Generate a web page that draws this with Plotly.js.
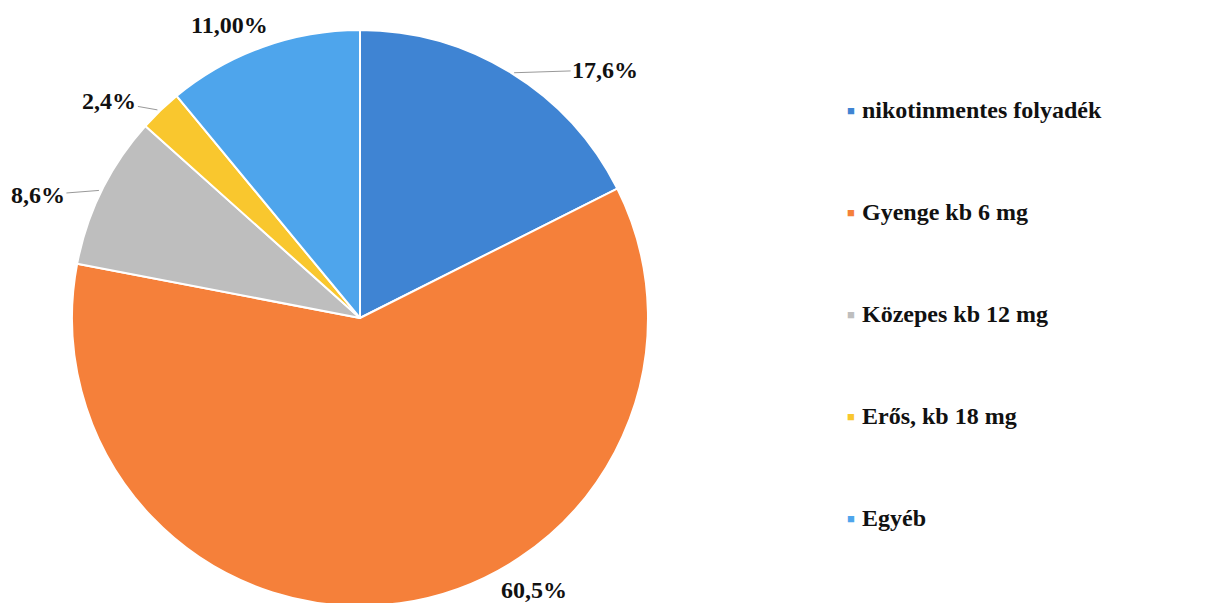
<!DOCTYPE html>
<html>
<head>
<meta charset="utf-8">
<script src="https://cdn.plot.ly/plotly-3.0.1.min.js"></script>
<style>
  html, body { margin: 0; padding: 0; background: #fff; overflow: hidden; }
</style>
</head>
<body>
<div id="chart"></div>
<script>
const categories = ['nikotinmentes folyadék', 'Gyenge kb 6 mg', 'Közepes kb 12 mg', 'Erős, kb 18 mg', 'Egyéb'];
const shares = [17.6, 60.5, 8.6, 2.4, 11.0];
const shareLabels = ['17,6%', '60,5%', '8,6%', '2,4%', '11,00%'];
const colors = ['#3f84d3', '#f5803a', '#bebebe', '#f9c72e', '#4ea5ec'];

// label offsets from the slice edge (px), and whether a leader line is drawn
const labelOffsets = [[94, -3, true], [134, -13, false], [-64, 5, true], [-51, -9, true], [-33, -22, false]];

const W = 1208, H = 640;
const pieLeft = 72, pieTop = 30, radius = 288;
const cx = pieLeft + radius, cy = pieTop + radius;

const font = { family: "'Liberation Serif', 'Times New Roman', serif", color: '#111', size: 24 };

const total = shares.reduce((a, b) => a + b, 0);
const annotations = [];
let acc = 0;
shares.forEach((v, i) => {
  const mid = (acc + v / 2) / total * 2 * Math.PI;
  acc += v;
  const px = cx + radius * Math.sin(mid);
  const py = cy - radius * Math.cos(mid);
  const [ax, ay, line] = labelOffsets[i];
  annotations.push({
    xref: 'paper', yref: 'paper',
    x: px / W, y: 1 - py / H,
    xanchor: 'center', yanchor: 'middle',
    text: '<b>' + shareLabels[i] + '</b>',
    font: font,
    showarrow: line,
    arrowhead: 0, arrowwidth: 1, arrowcolor: '#999',
    ax: ax, ay: ay, standoff: 3,
    xshift: line ? 0 : ax, yshift: line ? 0 : -ay
  });
});

// legend drawn as a column of entries
categories.forEach((c, i) => {
  const y = 1 - (110 + i * 102) / H;
  annotations.push({
    xref: 'paper', yref: 'paper', x: 851 / W, y: y,
    text: '■', showarrow: false, font: { size: 13, color: colors[i] },
    xanchor: 'center', yanchor: 'middle'
  });
  annotations.push({
    xref: 'paper', yref: 'paper', x: 860 / W, y: y,
    text: '<b>' + c + '</b>', showarrow: false, font: font,
    xanchor: 'left', yanchor: 'middle'
  });
});

const trace = {
  type: 'pie',
  labels: categories,
  values: shares,
  sort: false,
  direction: 'clockwise',
  rotation: 0,
  textinfo: 'none',
  hoverinfo: 'label+percent',
  marker: { colors: colors, line: { color: '#ffffff', width: 2 } },
  domain: { x: [pieLeft / W, (pieLeft + 2 * radius) / W], y: [1 - (pieTop + 2 * radius) / H, 1 - pieTop / H] }
};

const layout = {
  width: W,
  height: H,
  margin: { l: 0, r: 0, t: 0, b: 0 },
  paper_bgcolor: '#ffffff',
  showlegend: false,
  annotations: annotations,
  font: font
};

Plotly.newPlot('chart', [trace], layout, { displayModeBar: false, staticPlot: true });
</script>
</body>
</html>
